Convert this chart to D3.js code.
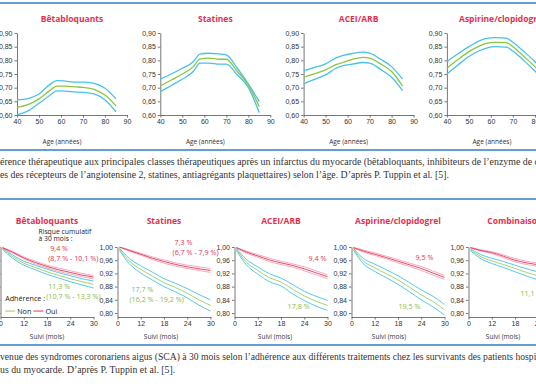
<!DOCTYPE html>
<html>
<head>
<meta charset="utf-8">
<script src="https://cdn.jsdelivr.net/npm/d3@7"></script>
<style>
body { margin: 0; background: #fff; }
svg { display: block; font-family: "Open Sans", sans-serif; }
.title { font-weight: 700; fill: #e5304e; font-size: 8.5px; }
.axis text { font-size: 7px; fill: #333; }
.axis path, .axis line { stroke: #555; stroke-width: 0.8; }
.aTitle { font-size: 6.5px; fill: #333; }
.caption { font-family: "Liberation Serif", serif; font-size: 9.8px; fill: #333; }
.rule { stroke: #2f7fc1; stroke-width: 1.6; }
.note { font-size: 7.2px; }
</style>
</head>
<body>
<div id="chart"></div>
<script>
// Top panel: adherence by age
var ageTitles = ["Bêtabloquants", "Statines", "ACEI/ARB", "Aspirine/clopidogrel"];
var ages = [40, 45, 50, 55, 58, 62, 67, 70, 75, 80, 85];
var ageTicks = [40, 50, 60, 70, 80, 90];
var adhTicks = [0.60, 0.65, 0.70, 0.75, 0.80, 0.85, 0.90];

var adhMean = [
    [0.628, 0.638, 0.659, 0.690, 0.706, 0.706, 0.703, 0.701, 0.694, 0.673, 0.633],
    [0.706, 0.728, 0.750, 0.777, 0.804, 0.808, 0.804, 0.804, 0.759, 0.710, 0.630],
    [0.738, 0.751, 0.765, 0.785, 0.793, 0.803, 0.811, 0.808, 0.787, 0.759, 0.706],
    [0.771, 0.803, 0.832, 0.853, 0.862, 0.866, 0.865, 0.850, 0.814, 0.777, 0.734]
];
var adhUpper = [
    [0.655, 0.660, 0.677, 0.712, 0.726, 0.724, 0.720, 0.720, 0.716, 0.698, 0.659],
    [0.731, 0.750, 0.771, 0.795, 0.823, 0.826, 0.823, 0.820, 0.771, 0.714, 0.649],
    [0.761, 0.774, 0.787, 0.810, 0.818, 0.825, 0.830, 0.826, 0.804, 0.777, 0.731],
    [0.795, 0.824, 0.850, 0.872, 0.880, 0.883, 0.881, 0.866, 0.832, 0.795, 0.750]
];
var adhLower = [
    [0.600, 0.615, 0.643, 0.672, 0.688, 0.687, 0.684, 0.683, 0.677, 0.655, 0.612],
    [0.685, 0.708, 0.731, 0.759, 0.790, 0.790, 0.786, 0.786, 0.747, 0.701, 0.608],
    [0.714, 0.730, 0.747, 0.772, 0.781, 0.786, 0.792, 0.790, 0.767, 0.738, 0.689],
    [0.750, 0.783, 0.814, 0.836, 0.845, 0.850, 0.848, 0.834, 0.799, 0.761, 0.720]
];

// Bottom panel: survival by adherence
var suiviTitles = ["Bêtabloquants", "Statines", "ACEI/ARB", "Aspirine/clopidogrel", "Combinaison"];
var months = [1, 6, 12, 15, 18, 21, 24, 27, 30];
var suiviTicks = [0, 12, 18, 24, 30];
var survTicks = [0.80, 0.84, 0.88, 0.92, 0.96, 1.00];

var ouiMean = [
    [0.998, 0.985, 0.967, 0.953, 0.941, 0.931, 0.923, 0.915, 0.909],
    [1.000, 0.990, 0.978, 0.966, 0.956, 0.947, 0.940, 0.934, 0.929],
    [0.998, 0.985, 0.973, 0.961, 0.952, 0.944, 0.934, 0.922, 0.910],
    [0.998, 0.988, 0.978, 0.968, 0.957, 0.946, 0.935, 0.921, 0.908],
    [0.998, 0.990, 0.983, 0.972, 0.960, 0.952, 0.946, 0.942, 0.938]
];
var ouiUpper = [
    [0.999, 0.987, 0.970, 0.957, 0.945, 0.936, 0.928, 0.920, 0.914],
    [1.000, 0.992, 0.981, 0.970, 0.961, 0.952, 0.945, 0.940, 0.935],
    [0.999, 0.988, 0.977, 0.966, 0.957, 0.949, 0.940, 0.928, 0.916],
    [0.999, 0.991, 0.982, 0.972, 0.962, 0.951, 0.941, 0.927, 0.914],
    [0.999, 0.992, 0.986, 0.976, 0.965, 0.957, 0.951, 0.948, 0.944]
];
var ouiLower = [
    [0.997, 0.983, 0.964, 0.949, 0.937, 0.926, 0.918, 0.910, 0.903],
    [0.999, 0.988, 0.975, 0.962, 0.951, 0.942, 0.935, 0.929, 0.923],
    [0.997, 0.982, 0.969, 0.956, 0.947, 0.939, 0.928, 0.916, 0.904],
    [0.997, 0.985, 0.974, 0.964, 0.952, 0.941, 0.929, 0.915, 0.902],
    [0.997, 0.988, 0.980, 0.968, 0.955, 0.947, 0.941, 0.936, 0.932]
];
var nonMean = [
    [0.995, 0.972, 0.951, 0.938, 0.925, 0.914, 0.904, 0.895, 0.887],
    [0.993, 0.958, 0.932, 0.912, 0.892, 0.877, 0.860, 0.840, 0.823],
    [0.993, 0.955, 0.929, 0.907, 0.894, 0.872, 0.852, 0.836, 0.823],
    [0.993, 0.958, 0.937, 0.919, 0.900, 0.878, 0.855, 0.835, 0.810],
    [0.992, 0.972, 0.958, 0.947, 0.935, 0.923, 0.912, 0.900, 0.889]
];
var nonUpper = [
    [0.997, 0.977, 0.957, 0.945, 0.933, 0.922, 0.913, 0.904, 0.897],
    [0.996, 0.966, 0.943, 0.924, 0.904, 0.890, 0.874, 0.856, 0.840],
    [0.996, 0.963, 0.940, 0.919, 0.906, 0.886, 0.866, 0.851, 0.838],
    [0.996, 0.966, 0.948, 0.931, 0.913, 0.892, 0.870, 0.851, 0.826],
    [0.995, 0.978, 0.966, 0.956, 0.945, 0.934, 0.924, 0.913, 0.903]
];
var nonLower = [
    [0.993, 0.967, 0.945, 0.931, 0.917, 0.906, 0.895, 0.885, 0.876],
    [0.990, 0.950, 0.921, 0.900, 0.880, 0.864, 0.846, 0.824, 0.806],
    [0.990, 0.947, 0.918, 0.895, 0.882, 0.858, 0.838, 0.821, 0.808],
    [0.990, 0.950, 0.926, 0.907, 0.887, 0.864, 0.840, 0.819, 0.794],
    [0.989, 0.966, 0.950, 0.938, 0.925, 0.912, 0.900, 0.887, 0.875]
];

// risk labels, placed in data units of each small chart
var riskChart = [0, 0, 1, 1, 2, 2, 3, 3, 4];
var riskGroup = ["oui", "non", "oui", "non", "oui", "non", "oui", "non", "non"];
var riskText = [
    ["9,4 %", "(8,7 % - 10,1 %)"],
    ["11,3 %", "(10,7 % - 13,3 %)"],
    ["7,3 %", "(6,7 % - 7,9 %)"],
    ["17,7 %", "(16,2 % - 19,2 %)"],
    ["9,4 %"],
    ["17,8 %"],
    ["9,5 %"],
    ["19,5 %"],
    ["11,1 %"]
];
var riskMonth = [18.3, 17.8, 20.2, 6.2, 25.1, 19.7, 22.5, 18.1, 19.4];
var riskValue = [0.987, 0.872, 1.005, 0.863, 0.958, 0.811, 0.960, 0.811, 0.851];

var captionTop = [
    "érence thérapeutique aux principales classes thérapeutiques après un infarctus du myocarde (bêtabloquants, inhibiteurs de l’enzyme de c",
    "es des récepteurs de l’angiotensine 2, statines, antiagrégants plaquettaires) selon l’âge. D’après P. Tuppin et al. [5]."
];
var captionBottom = [
    "venue des syndromes coronariens aigus (SCA) à 30 mois selon l’adhérence aux différents traitements chez les survivants des patients hospit",
    "us du myocarde. D’après P. Tuppin et al. [5]."
];

// layout
var width = 536, height = 386;
var fr = d3.formatLocale({decimal: ",", thousands: " ", grouping: [3], currency: ["", " €"]});
var f2 = fr.format(".2f");

var colGreen = "#8cc540", colCyan = "#43c3e9";
var colRed = "#e6335a", colPink = "#f3a2b6", colGreen2 = "#9dcb5c";

var svg = d3.select("#chart").append("svg")
    .attr("width", width)
    .attr("height", height);

// blue rules
[3, 150, 199, 345].forEach(function(y){
    svg.append("line").attr("class", "rule")
        .attr("x1", 0).attr("x2", width).attr("y1", y).attr("y2", y);
});

// ---- top panel
var topLeft = 17, topStep = 143.3, topW = 110;
var yTop = d3.scaleLinear().domain([0.60, 0.90]).range([115, 33]);

ageTitles.forEach(function(name, i){
    var x0 = topLeft + topStep * i;
    var x = d3.scaleLinear().domain([40, 90]).range([x0, x0 + topW]);
    var g = svg.append("g");

    g.append("text").attr("class", "title")
        .attr("x", x0 + topW / 2).attr("y", 22)
        .attr("text-anchor", "middle").text(name);

    g.append("g").attr("class", "axis")
        .attr("transform", "translate(0," + yTop(0.60) + ")")
        .call(d3.axisBottom(x).tickValues(ageTicks).tickSize(2.5).tickSizeOuter(0).tickPadding(2));

    g.append("g").attr("class", "axis")
        .attr("transform", "translate(" + x0 + ",0)")
        .call(d3.axisLeft(yTop).tickValues(adhTicks).tickFormat(f2).tickSize(2.5).tickSizeOuter(0).tickPadding(2));

    g.append("text").attr("class", "aTitle")
        .attr("x", x0 + topW / 2 - 10).attr("y", 144)
        .attr("text-anchor", "middle").text("Age (années)");

    var line = d3.line()
        .x(function(d, k){ return x(ages[k]); })
        .y(function(d){ return yTop(d); })
        .curve(d3.curveMonotoneX);

    [[adhUpper[i], colCyan], [adhLower[i], colCyan], [adhMean[i], colGreen]].forEach(function(s){
        g.append("path").attr("d", line(s[0]))
            .attr("fill", "none").attr("stroke", s[1]).attr("stroke-width", 1.3);
    });
});

// captions (justified paragraphs: full lines run to the edge)
function caption(lines, y0){
    lines.forEach(function(t, k){
        var txt = svg.append("text").attr("class", "caption")
            .attr("x", 0).attr("y", y0 + k * 13).text(t);
        if (k < lines.length - 1) {
            txt.attr("textLength", 539).attr("lengthAdjust", "spacingAndGlyphs");
        }
    });
}
caption(captionTop, 165);
caption(captionBottom, 360);

// ---- bottom panel
var botLeft = 0.5, botStep = 117, botW = 93;
var yBot = d3.scaleLinear().domain([0.788, 1.0]).range([317, 247]);
var xs = [];

suiviTitles.forEach(function(name, i){
    var x0 = botLeft + botStep * i;
    var x = d3.scaleLinear()
        .domain(suiviTicks)
        .range(suiviTicks.map(function(d, k){ return x0 + botW * k / (suiviTicks.length - 1); }));
    xs.push(x);
    var g = svg.append("g");

    g.append("text").attr("class", "title")
        .attr("x", x0 + botW / 2).attr("y", 224)
        .attr("text-anchor", "middle").text(name);

    g.append("g").attr("class", "axis")
        .attr("transform", "translate(0," + yBot(0.788) + ")")
        .call(d3.axisBottom(x).tickValues(suiviTicks).tickSize(2.5).tickSizeOuter(0).tickPadding(2));

    g.append("g").attr("class", "axis")
        .attr("transform", "translate(" + x0 + ",0)")
        .call(d3.axisLeft(yBot).tickValues(survTicks).tickFormat(f2).tickSize(2.5).tickSizeOuter(0).tickPadding(2));

    g.append("text").attr("class", "aTitle")
        .attr("x", x0 + botW / 2 - 3 * i).attr("y", 339)
        .attr("text-anchor", "middle").text("Suivi (mois)");

    var line = d3.line()
        .x(function(d, k){ return x(months[k]); })
        .y(function(d){ return yBot(d); })
        .curve(d3.curveMonotoneX);

    [[nonUpper[i], colCyan], [nonLower[i], colCyan], [nonMean[i], colGreen2],
     [ouiUpper[i], colPink], [ouiLower[i], colPink], [ouiMean[i], colRed]].forEach(function(s){
        g.append("path").attr("d", line(s[0]))
            .attr("fill", "none").attr("stroke", s[1]).attr("stroke-width", 0.9);
    });
});

// risk labels
riskText.forEach(function(lines, j){
    var x = xs[riskChart[j]];
    var t = svg.append("text").attr("class", "note")
        .attr("fill", riskGroup[j] === "oui" ? "#e5334f" : "#86bb45")
        .attr("x", x(riskMonth[j])).attr("y", yBot(riskValue[j]));
    lines.forEach(function(s, k){
        t.append("tspan").attr("x", x(riskMonth[j]) - (k === 0 && lines.length > 1 ? -2 : 0))
            .attr("dy", k === 0 ? 0 : 9.5).text(s);
    });
});

// first chart: heading of the labels and legend
var x1 = xs[0];
var head = svg.append("text").attr("class", "note").attr("fill", "#222")
    .style("font-size", "6.8px")
    .attr("x", x1(15.8)).attr("y", yBot(1.04));
head.append("tspan").attr("x", x1(15.8)).text("Risque cumulatif");
head.append("tspan").attr("x", x1(15.8)).attr("dy", 7.5).text("à 30 mois :");

svg.append("text").attr("class", "note").attr("fill", "#222")
    .attr("x", x1(2.4)).attr("y", yBot(0.835)).text("Adhérence :");

var legY = yBot(0.806);
[["Non", colGreen2, 2.4], ["Oui", colRed, 14.5]].forEach(function(d){
    svg.append("line")
        .attr("x1", x1(d[2])).attr("x2", x1(d[2]) + 10)
        .attr("y1", legY).attr("y2", legY)
        .attr("stroke", d[1]).attr("stroke-width", 1);
    svg.append("text").attr("class", "note").attr("fill", "#222")
        .attr("x", x1(d[2]) + 12).attr("y", legY + 2.5).text(d[0]);
});
</script>
</body>
</html>
